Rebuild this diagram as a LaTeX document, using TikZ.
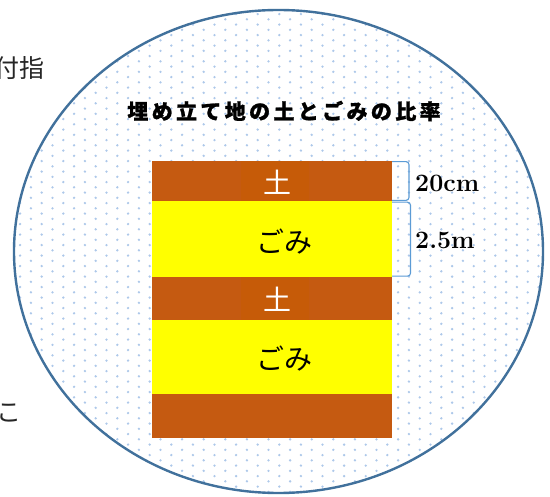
\documentclass[tikz,border=0pt]{standalone}
\usepackage{fontspec}
\newfontfamily\jp{Noto Sans CJK JP}
\newfontfamily\jpt[LetterSpace=16, BoldFeatures={FakeBold=1.2}]{Noto Sans CJK JP}
\definecolor{soil}{HTML}{C55A11}
\definecolor{soilb}{HTML}{C65B08}
\definecolor{trash}{HTML}{FFFF00}
\definecolor{rim}{HTML}{41719C}
\definecolor{dotc}{HTML}{ADC8EA}
\definecolor{brk}{HTML}{5B9BD5}
\tikzset{
  layer/.style={inner sep=0pt, outer sep=0pt, draw=none, minimum width=240pt, anchor=north west},
  lbox/.style={inner sep=0pt, outer sep=0pt, draw=none, fill=soilb, minimum width=68pt, anchor=north west},
  soiltxt/.style={text=white, font=\jp\fontsize{28}{30}\selectfont, inner sep=0pt},
  trashtxt/.style={text=black, font=\jp\fontsize{28}{30}\selectfont, inner sep=0pt},
  dimtxt/.style={font=\fontsize{25}{28}\selectfont\bfseries, anchor=west, inner sep=0pt},
  bracket/.style={draw=brk, line width=1.1pt, rounded corners=3pt},
  sidetxt/.style={font=\jp\fontsize{25}{28}\selectfont, text=black!85, anchor=east, inner sep=0pt}
}
\begin{document}
\begin{tikzpicture}[x=1pt,y=-1pt]
\useasboundingbox (0,0) rectangle (550,497);
\clip (0,0) rectangle (550,497);
\fill[white] (0,0) rectangle (550,497);
% side texts, cut by the picture's left edge as in the reference
\node[sidetxt] (t1) at (45,68) {付指};
\node[sidetxt] (t2) at (22,413) {こ};
% ellipse with dotted fill
\fill[white] (278.5,251.5) ellipse [x radius=264.5pt, y radius=241.5pt];
\begin{scope}
\clip (278.5,251.5) ellipse [x radius=264.5pt, y radius=241.5pt];
\foreach \r [evaluate=\r as \yy using {\r*5.25+3.6}, evaluate=\r as \xo using {mod(\r,2)*10.8+20.1}] in {0,...,95}{
  \foreach \c in {-1,...,25}{
    \fill[dotc] ({\c*21.6+\xo},{\yy}) circle (1.3pt);
  }
}
\end{scope}
\draw[rim, line width=2.4pt] (278.5,251.5) ellipse [x radius=264.5pt, y radius=241.5pt];
% title
\node[font=\jpt\bfseries\fontsize{21}{24}\selectfont, inner sep=0pt] (title) at (284,111) {埋め立て地の土とごみの比率};
% layers
\node[layer, fill=soil, minimum height=40pt] (s1) at (152,161) {};
\node[layer, fill=trash, minimum height=76pt] (y1) at (152,201) {};
\node[layer, fill=soil, minimum height=43pt] (s2) at (152,277) {};
\node[layer, fill=trash, minimum height=74pt] (y2) at (152,320) {};
\node[layer, fill=soil, minimum height=44pt] (s3) at (152,394) {};
% label boxes
\node[lbox, minimum height=40pt] (b1) at (241,161) {};
\node[lbox, minimum height=43pt] (b2) at (241,277) {};
% texts
\node[soiltxt] (l1) at (277,182) {土};
\node[soiltxt] (l2) at (277,299) {土};
\node[trashtxt] (g1) at (284,242) {ごみ};
\node[trashtxt] (g2) at (284,359) {ごみ};
% brackets
\draw[bracket] ([yshift=-0.6pt]s1.north east) -- ++(17pt,0pt) |- ([yshift=0.6pt]s1.south east);
\draw[bracket] ([yshift=-1.2pt]y1.north east) -- ++(18.5pt,0pt) |- ([yshift=0.8pt]y1.south east);
\node[dimtxt] (d1) at (415,183) {20cm};
\node[dimtxt] (d2) at (415,240) {2.5m};
\end{tikzpicture}
\end{document}
